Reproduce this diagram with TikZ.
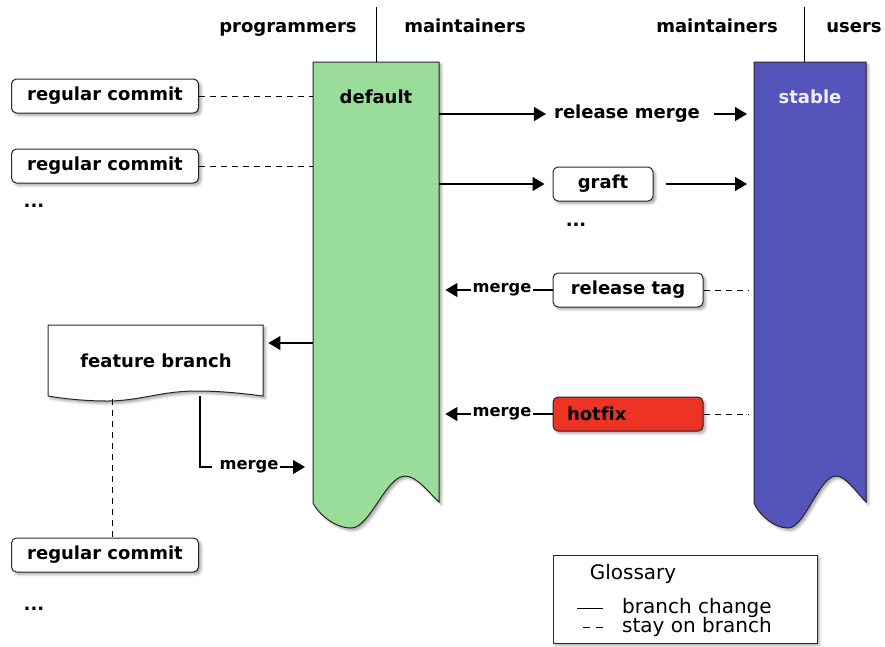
\documentclass[tikz,border=0pt]{standalone}
\usepackage{fontspec}
\setmainfont{DejaVu Sans}[Ligatures=NoCommon]
\newfontfamily\boldface{DejaVu Sans Bold}[Ligatures=NoCommon]
\usetikzlibrary{arrows.meta,shadows.blur}

\definecolor{branchgreen}{RGB}{154,221,154}
\definecolor{branchblue}{RGB}{84,84,186}
\definecolor{hotred}{RGB}{237,51,36}
\definecolor{edge}{RGB}{40,40,40}

\tikzset{
  softshadow/.style={blur shadow={shadow xshift=2.5pt, shadow yshift=-2.5pt,
      shadow blur radius=2.5pt, shadow opacity=35}},
  commitbox/.style={draw=edge, fill=white, rounded corners=5pt, line width=1pt,
      minimum width=187pt, minimum height=34pt, inner sep=0pt, softshadow},
  colshape/.style={draw=edge, line width=1pt, softshadow},
  colbody/.style={inner sep=0pt, minimum width=#1, minimum height=441pt},
  coltitle/.style={inner sep=0pt},
  plainlabel/.style={inner xsep=1pt, inner ysep=0pt},
  mergelabel/.style={inner xsep=1pt, inner ysep=0pt, font=\boldface\fontsize{16.3}{18}\selectfont},
  dotlabel/.style={inner sep=0pt, anchor=base},
  rolelabel/.style={inner sep=0pt, anchor=base},
  glosstext/.style={inner sep=0pt, font=\fontsize{20}{22}\selectfont},
  change/.style={draw=black, line width=1.1pt},
  stay/.style={draw=black, line width=1pt, dash pattern=on 6pt off 5pt},
  tip/.style={-{Triangle[length=12pt,width=14pt]}},
}

\begin{document}
\begin{tikzpicture}[x=1pt, y=-1pt,
  every node/.style={font=\boldface\fontsize{18}{20}\selectfont, text=black}]
\useasboundingbox (0,0) rectangle (885,646);

% ---- role headers ----
\node[rolelabel] (hprog) at (288,32) {programmers};
\node[rolelabel] (hmaintl) at (465,32) {maintainers};
\node[rolelabel] (hmaintr) at (717,32) {maintainers};
\node[rolelabel] (husers) at (854,32) {users};

% ---- default branch column ----
\path[colshape, fill=branchgreen] (313,62) -- (439,62) -- (439,502)
  .. controls (429,493) and (417,476) .. (405,476)
  .. controls (386,476) and (370,528) .. (351,528)
  .. controls (334,528) and (318,513) .. (313,503) -- cycle;
\node[colbody=126pt, anchor=north west] (defcol) at (313,62) {};
\node[coltitle] (default) at (376,97) {default};

% ---- stable branch column ----
\path[colshape, fill=branchblue] (754,62) -- (866,62) -- (866,502)
  .. controls (857,493) and (846,476) .. (836,476)
  .. controls (819,476) and (805,528) .. (788,528)
  .. controls (773,528) and (758,513) .. (754,503) -- cycle;
\node[colbody=112pt, anchor=north west] (stabcol) at (754,62) {};
\node[coltitle, text={rgb,255:red,238;green,238;blue,255}] (stable) at (810,97) {stable};

% role dividers
\coordinate (deftop) at (376,7);
\coordinate (stabtop) at (804.5,7);
\draw[line width=1pt] (deftop) -- (deftop |- defcol.north);
\draw[line width=1pt] (stabtop) -- (stabtop |- stabcol.north);

% ---- commits on default ----
\node[commitbox] (rc1) at (105,96) {regular commit};
\node[commitbox] (rc2) at (105,166) {regular commit};
\node[dotlabel] (dots1) at (34,207) {...};
\draw[stay] (rc1.east) -- (rc1 -| defcol.west);
\draw[stay] (rc2.east) -- (rc2 -| defcol.west);

% ---- feature branch ----
\path[colshape, fill=white] (48,325) -- (263,325) -- (263,396)
  .. controls (240,393) and (218,391) .. (197,391)
  .. controls (160,391) and (140,401) .. (107,401)
  .. controls (82,401) and (60,398) .. (48,396) -- cycle;
\node[inner sep=0pt, minimum width=215pt, minimum height=71pt, anchor=north west] (feat) at (48,325) {};
\node[coltitle] (feattitle) at (156,361) {feature branch};
\coordinate (forkrow) at (0,343);
\draw[change, tip, shorten >=5pt] (defcol.west |- forkrow) -- (feat.east |- forkrow);

\node[commitbox] (rc3) at (105,555) {regular commit};
\node[dotlabel] (dots2) at (34,610) {...};
\coordinate (featstay) at (112,399);
\draw[stay] (featstay) -- (featstay |- rc3.north);

\coordinate (featout) at (200,396);
\node[mergelabel] (m0) at (249,467) {merge};
\draw[change] (featout) |- ([xshift=-6pt]m0.west);
\draw[change, tip, shorten >=8pt] (m0.east) -- (m0 -| defcol.west);

% ---- default to stable ----
\node[plainlabel] (relm) at (627,114) {release merge};
\draw[change, tip, shorten >=7pt] (defcol.east |- relm) -- (relm.west);
\draw[change, tip, shorten <=13pt, shorten >=7pt] (relm.east) -- (relm -| stabcol.west);

\node[commitbox, minimum width=100pt] (graft) at (603,184) {graft};
\draw[change, tip, shorten >=8pt] (defcol.east |- graft) -- (graft.west);
\draw[change, tip, shorten <=12pt, shorten >=7pt] (graft.east) -- (graft -| stabcol.west);
\node[dotlabel] (dots3) at (576,226) {...};

% ---- stable back to default ----
\node[commitbox, minimum width=150pt] (rtag) at (628,290) {release tag};
\draw[stay, shorten >=6pt] (rtag.east) -- (rtag -| stabcol.west);
\node[mergelabel] (m1) at (502,290) {merge};
\draw[change] (rtag.west) -- (m1.east);
\draw[change, tip, shorten >=6pt] (m1.west) -- (m1 -| defcol.east);

\node[commitbox, fill=hotred, minimum width=150pt, inner xsep=14pt,
      text width=122pt, align=left] (hotfix) at (628,414) {hotfix};
\draw[stay, shorten >=6pt] (hotfix.east) -- (hotfix -| stabcol.west);
\node[mergelabel] (m2) at (502,414) {merge};
\draw[change] (hotfix.west) -- (m2.east);
\draw[change, tip, shorten >=6pt] (m2.west) -- (m2 -| defcol.east);

% ---- glossary ----
\node[draw=edge, fill=white, line width=1pt, minimum width=264pt, minimum height=88pt,
      inner sep=0pt, softshadow] (gloss) at (685,599) {};
\node[glosstext, anchor=base] (glosstitle) at (633,579) {Glossary};
\node[glosstext, anchor=base west] (glchange) at (622,613) {branch change};
\node[glosstext, anchor=base west] (glstay) at (622,632) {stay on branch};
\coordinate (samplechange) at (577,608);
\coordinate (samplestay) at (583,627);
\draw[line width=1pt] (samplechange) -- ++(26,0);
\draw[line width=1pt, dash pattern=on 7pt off 6pt] (samplestay) -- ++(20,0);
\end{tikzpicture}
\end{document}
